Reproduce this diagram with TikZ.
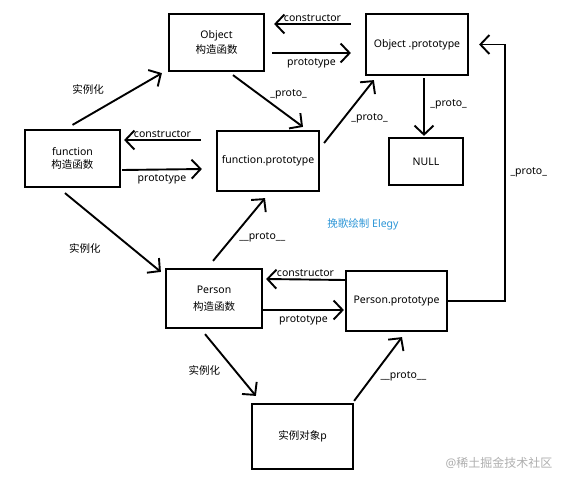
\documentclass[tikz,border=0pt]{standalone}
\usepackage{fontspec}
\setmainfont{Noto Sans}
\newfontfamily\cjk{Noto Sans CJK SC}
\usepackage{tikz}
\usetikzlibrary{arrows.meta,calc,positioning}
\definecolor{elegyblue}{RGB}{45,150,215}
\definecolor{markgray}{RGB}{175,175,175}

\begin{document}
\begin{tikzpicture}[x=1pt,y=-1pt,>={Straight Barb[length=9pt,width=19pt]},
  font=\fontsize{10.5}{12.6}\selectfont,
  box/.style={draw,line width=2.2pt,inner sep=0pt,align=center},
  arr/.style={->,line width=1.9pt},
  lbl/.style={inner sep=1.5pt}]
 \useasboundingbox[fill=white] (0,0) rectangle (566,483);
 % --- boxes ---
 \node[box,minimum width=95pt,minimum height=57pt] (obj) at (216.5,42.5) {Object\\[2pt]{\cjk 构造函数}};
 \node[box,minimum width=102pt,minimum height=61pt] (objp) at (417,44.5) {Object .prototype};
 \node[box,minimum width=74pt,minimum height=47pt] (null) at (426,161.5) {NULL};
 \node[box,minimum width=95pt,minimum height=57pt] (fn) at (72.5,158.5) {function\\[1pt]{\cjk 构造函数}};
 \node[box,minimum width=102pt,minimum height=60pt] (fnp) at (268,161) {function.prototype};
 \node[box,minimum width=96pt,minimum height=59pt] (per) at (214,298.5) {Person\\[4pt]{\cjk 构造函数}};
 \node[box,minimum width=101pt,minimum height=60pt] (perp) at (396.5,301) {Person.prototype};
 \node[box,minimum width=101pt,minimum height=65pt] (inst) at (302.5,436.5) {{\cjk 实例对象}p};
 % --- Object <-> Object.prototype ---
 \draw[arr] ($(objp.west)+(-14,-20.5)$) -- node[lbl,above]{constructor} ($(obj.east)+(9,-18.5)$);
 \draw[arr] ($(obj.east)+(7,10.5)$) -- node[lbl,below=3pt]{prototype} ($(objp.west)+(-14,8.5)$);
 % --- function <-> function.prototype ---
 \draw[arr] ($(fnp.west)+(-15,-21)$) -- node[lbl,above]{constructor} ($(fn.east)+(3,-18.5)$);
 \draw[arr] ($(fn.east)+(1,11.5)$) -- node[lbl,below=3pt]{prototype} ($(fnp.west)+(-14,8)$);
 % --- Person <-> Person.prototype ---
 \draw[arr] ($(perp.west)+(0,-21)$) -- node[lbl,above]{constructor} ($(per.east)+(3,-19.5)$);
 \draw[arr] ($(per.east)+(0,11.5)$) -- node[lbl,below=3pt]{prototype} ($(perp.west)+(-1,9)$);
 % --- instances ---
 \draw[arr] ($(fn.north)+(0,-4)$) -- node[lbl,anchor=east,xshift=-11pt,yshift=10pt]{\cjk 实例化} ($(obj.south west)+(-6,1)$);
 \draw[arr] ($(fn.south)+(-7.5,5)$) -- node[lbl,anchor=east,xshift=-10pt,yshift=-16pt]{\cjk 实例化} ($(per.north west)+(-4,4)$);
 \draw[arr] ($(per.south)+(-9,5)$) -- node[lbl,anchor=east,xshift=-8pt,yshift=-5pt]{\cjk 实例化} ($(inst.north west)+(5,-7)$);
 % --- proto chain ---
 \draw[arr] ($(obj.south)+(16.5,3)$) -- node[lbl,above right]{\_proto\_} ($(fnp.north)+(35,-3)$);
 \draw[arr] ($(fnp.east)+(4,-18)$) -- node[lbl,below right]{\_proto\_} ($(objp.south west)+(9,4)$);
 \draw[arr] ($(objp.south)+(7,2)$) -- node[lbl,right=4pt,yshift=3pt]{\_proto\_} ($(null.north)+(-2,-1)$);
 \draw[arr] ($(per.north)+(-1,-7)$) -- node[lbl,anchor=west,xshift=-2pt,yshift=-8pt]{\_\_proto\_\_} ($(fnp.south)+(-3,6)$);
 \draw[arr] ($(inst.north east)+(0,-2)$) -- node[lbl,below right=0pt and 0pt]{\_\_proto\_\_} ($(perp.south)+(5.5,5)$);
 \draw[arr] (perp.east) -- ++(57,0) |- node[lbl,pos=0.25,right=3pt]{\_proto\_} ($(objp.east)+(10,0)$);
 % --- marks ---
 \node[text=elegyblue] (sign) at (363,224) {{\cjk 挽歌绘制} Elegy};
 \node[text=markgray,font=\large] (mark) at (499,463) {@{\cjk 稀土掘金技术社区}};
\end{tikzpicture}
\end{document}
